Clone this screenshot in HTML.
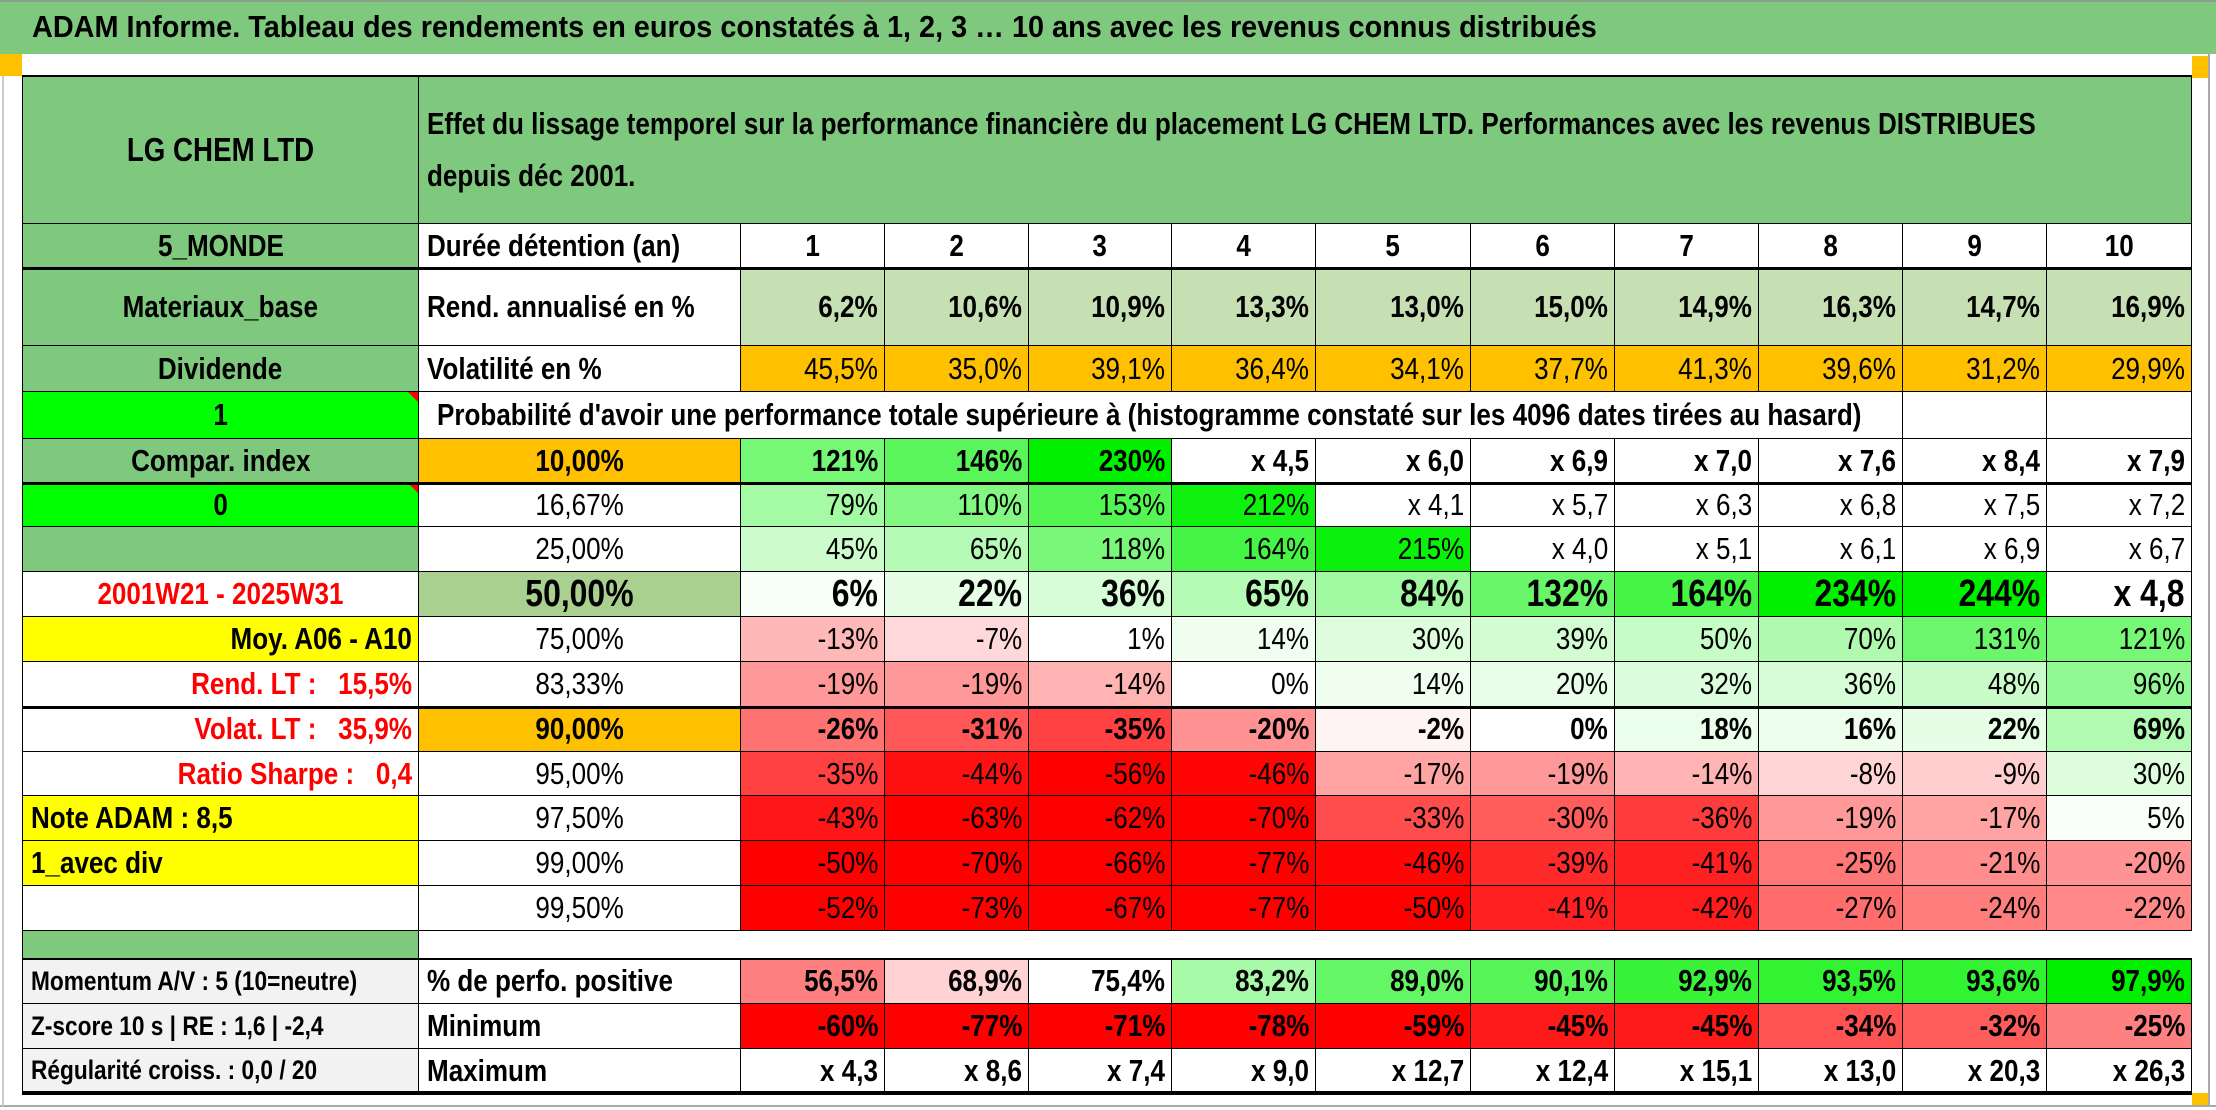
<!DOCTYPE html>
<html><head><meta charset="utf-8">
<style>
body{margin:0;width:2216px;height:1110px;background:#fff;overflow:hidden;position:relative;font-family:"Liberation Sans Narrow","Liberation Sans",sans-serif;}
.c{position:absolute;box-sizing:border-box;border-right:1.5px solid #000;border-bottom:1.5px solid #000;display:flex;align-items:center;white-space:nowrap;overflow:visible;color:#000;font-size:31px;}
.c>span.t{display:inline-block;transform:scaleX(0.84)}
.r{justify-content:flex-end;padding-right:6px}
.r>span.t{transform-origin:right center}
.l{justify-content:flex-start;padding-left:8px}
.l>span.t{transform-origin:left center}
.m{justify-content:center}
.m>span.t{transform-origin:center center}
.b{font-weight:bold}
.tri{position:absolute;right:0;top:0;width:0;height:0;border-top:10px solid #f00;border-left:10px solid transparent}
.hl{position:absolute;background:#000}
</style></head><body>
<div style="position:absolute;left:0;top:0;width:2216px;height:54px;background:#7fc97f;border-top:2px solid #8aa08a;box-sizing:border-box;font-size:31px;font-weight:bold;padding-left:32px;line-height:50px"><span style="display:inline-block;transform:scaleX(0.93);transform-origin:left center">ADAM Informe. Tableau des rendements en euros constatés à 1, 2, 3 … 10 ans avec les revenus connus distribués</span></div>
<div style="position:absolute;left:0;top:54px;width:22px;height:22px;background:#ffc000"></div>
<div style="position:absolute;left:2192px;top:56px;width:16px;height:22px;background:#ffc000"></div>
<div style="position:absolute;left:2192px;top:1093px;width:16px;height:14px;background:#ffc000"></div>
<div style="position:absolute;left:2208px;top:54px;width:2px;height:1052px;background:#aaa"></div>
<div style="position:absolute;left:0;top:1105px;width:2216px;height:2px;background:#aaa"></div>
<div style="position:absolute;left:2px;top:76px;width:2px;height:1030px;background:#ccc"></div>
<div id="t"></div>
<script>
const colX=[22,419,741,885,1029,1172,1316,1471,1615,1759,1903,2047,2192];
const rowY=[76,224,268,346,392,439,483,527,572,617,662,707,752,796,841,886,931,959,1004,1049,1093];
const years=["1","2","3","4","5","6","7","8","9","10"];
const rendAnn=["6,2%","10,6%","10,9%","13,3%","13,0%","15,0%","14,9%","16,3%","14,7%","16,9%"];
const volat=["45,5%","35,0%","39,1%","36,4%","34,1%","37,7%","41,3%","39,6%","31,2%","29,9%"];
const pctLabels=["10,00%","16,67%","25,00%","50,00%","75,00%","83,33%","90,00%","95,00%","97,50%","99,00%","99,50%"];
const p10=["121%","146%","230%","x 4,5","x 6,0","x 6,9","x 7,0","x 7,6","x 8,4","x 7,9"];
const p1667=["79%","110%","153%","212%","x 4,1","x 5,7","x 6,3","x 6,8","x 7,5","x 7,2"];
const p25=["45%","65%","118%","164%","215%","x 4,0","x 5,1","x 6,1","x 6,9","x 6,7"];
const p50=["6%","22%","36%","65%","84%","132%","164%","234%","244%","x 4,8"];
const p75=["-13%","-7%","1%","14%","30%","39%","50%","70%","131%","121%"];
const p8333=["-19%","-19%","-14%","0%","14%","20%","32%","36%","48%","96%"];
const p90=["-26%","-31%","-35%","-20%","-2%","0%","18%","16%","22%","69%"];
const p95=["-35%","-44%","-56%","-46%","-17%","-19%","-14%","-8%","-9%","30%"];
const p975=["-43%","-63%","-62%","-70%","-33%","-30%","-36%","-19%","-17%","5%"];
const p99=["-50%","-70%","-66%","-77%","-46%","-39%","-41%","-25%","-21%","-20%"];
const p995=["-52%","-73%","-67%","-77%","-50%","-41%","-42%","-27%","-24%","-22%"];
const posPerf=["56,5%","68,9%","75,4%","83,2%","89,0%","90,1%","92,9%","93,5%","93,6%","97,9%"];
const minimum=["-60%","-77%","-71%","-78%","-59%","-45%","-45%","-34%","-32%","-25%"];
const maximum=["x 4,3","x 8,6","x 7,4","x 9,0","x 12,7","x 12,4","x 15,1","x 13,0","x 20,3","x 26,3"];

const T=document.getElementById('t');
function num(s){return parseFloat(s.replace('%','').replace(',','.'));}
function mix(c,t){t=Math.max(0,Math.min(1,t));const f=v=>Math.round(255+(v-255)*t);return `rgb(${f(c[0])},${f(c[1])},${f(c[2])})`;}
function heat(s){if(s.startsWith('x'))return '#fff';const v=num(s);return v>=0?mix([0,240,0],v/225):mix([255,0,0],-v/47);}
function cell(c0,c1,r0,r1,txt,cls,bg,name,extra){
  const d=document.createElement('div');
  d.className='c '+cls;
  d.style.left=colX[c0]+'px';d.style.top=rowY[r0]+'px';
  d.style.width=(colX[c1]-colX[c0])+'px';d.style.height=(rowY[r1]-rowY[r0])+'px';
  if(bg)d.style.background=bg;
  if(extra)d.style.cssText+=extra;
  if(txt){const s=document.createElement('span');s.className='t';s.textContent=txt;d.appendChild(s);}
  
  
  T.appendChild(d);return d;
}
const G='#7fc97f';
const colA=[
 ["LG CHEM LTD","m b",G,""],["5_MONDE","m b",G,""],["Materiaux_base","m b",G,""],["Dividende","m b",G,""],
 ["1","m b","#00ff00","tri"],["Compar. index","m b",G,""],["0","m b","#00ff00","tri"],["","m",G,""],
 ["2001W21 - 2025W31","m b","#fff","red"],["Moy. A06 - A10","r b","#ffff00",""],["Rend. LT :   15,5%","r b","#fff","red"],
 ["Volat. LT :   35,9%","r b","#fff","red"],["Ratio Sharpe :   0,4","r b","#fff","red"],["Note ADAM : 8,5","l b","#ffff00",""],
 ["1_avec div","l b","#ffff00",""],["","m","#fff",""],["","m",G,""],
 ["Momentum A/V : 5 (10=neutre)","l b","#f2f2f2","small"],["Z-score 10 s | RE : 1,6 | -2,4","l b","#f2f2f2","small"],["Régularité croiss. : 0,0 / 20","l b","#f2f2f2","small"]
];
colA.forEach((a,i)=>{
  const d=cell(0,1,i,i+1,a[0],a[1],a[2],'label-a-'+(i+1),'border-left:1.5px solid #000;'+(i==0?'font-size:33px;':''));
  if(a[3]=='red'){d.style.color='#f00';d.style.whiteSpace='pre';}
  if(a[3]=='small')d.style.fontSize='27px';
  if(a[3]=='tri'){const t=document.createElement('span');t.className='tri';d.appendChild(t);}
  if(i==16){d.style.borderBottom='none';}
});
// header
const h=cell(1,12,0,1,"","l b",G,'table-heading');
h.style.flexDirection='column';h.style.alignItems='flex-start';h.style.justifyContent='center';
["Effet du lissage temporel sur la performance financière du placement LG CHEM LTD. Performances avec les revenus DISTRIBUES","depuis déc 2001."].forEach((line,i)=>{
  const s=document.createElement('span');s.className='t';s.textContent=line;
  s.style.transformOrigin='left center';s.style.lineHeight='52px';
  
  
  h.appendChild(s);
});
cell(1,2,1,2,"Durée détention (an)","l b","#fff",'holding-label');
years.forEach((y,i)=>cell(2+i,3+i,1,2,y,"m b","#fff",'year-'+y));
cell(1,2,2,3,"Rend. annualisé en %","l b","#fff",'rend-label');
rendAnn.forEach((v,i)=>cell(2+i,3+i,2,3,v,"r b","#c6e0b4",'rend-'+years[i]));
cell(1,2,3,4,"Volatilité en %","l b","#fff",'volat-label');
volat.forEach((v,i)=>cell(2+i,3+i,3,4,v,"r","#ffc000",'volat-'+years[i]));
cell(1,10,4,5,"Probabilité d'avoir une performance totale supérieure à (histogramme constaté sur les 4096 dates tirées au hasard)","l b","#fff",'probability-caption','padding-left:18px;');
cell(10,11,4,5,"","m","#fff",'empty-9');cell(11,12,4,5,"","m","#fff",'empty-10');
const rows=[p10,p1667,p25,p50,p75,p8333,p90,p95,p975,p99,p995];
const boldRows=[0,3,6];
rows.forEach((arr,k)=>{
  const r=5+k;const bold=boldRows.includes(k);
  const lb=k==0||k==6?'#ffc000':(k==3?'#a9d08e':'#fff');
  const d=cell(1,2,r,r+1,pctLabels[k],"m"+(bold?" b":""),lb,'pct-label-'+k);
  if(k==3)d.style.fontSize='38px';
  arr.forEach((v,i)=>{const e=cell(2+i,3+i,r,r+1,v,"r"+(bold?" b":""),heat(v),'pct'+k+'-y'+years[i]);if(k==3)e.style.fontSize='38px';});
});
const bl=cell(1,12,16,17,"","m","#fff",'blank-row');bl.style.borderRight='none';
cell(1,2,17,18,"% de perfo. positive","l b","#fff",'positive-label');
posPerf.forEach((v,i)=>{const x=num(v);const bg=x<75.4?mix([255,0,0],(75.4-x)/38):mix([0,240,0],(x-75.4)/22.5);cell(2+i,3+i,17,18,v,"r b",bg,'positive-'+years[i]);});
cell(1,2,18,19,"Minimum","l b","#fff",'minimum-label');
minimum.forEach((v,i)=>cell(2+i,3+i,18,19,v,"r b",mix([255,0,0],-num(v)/50),'minimum-'+years[i]));
cell(1,2,19,20,"Maximum","l b","#fff",'maximum-label');
maximum.forEach((v,i)=>cell(2+i,3+i,19,20,v,"r b","#fff",'maximum-'+years[i]));
[[0,76,2.5],[2,268,3],[6,483,3],[10,707,3],[17,959,2.5],[20,1093,4]].forEach((a,j)=>{
  const d=document.createElement('div');d.className='hl';
  d.style.left='22px';d.style.top=(a[1]-a[2]/2)+'px';d.style.width=(2192-22)+'px';d.style.height=a[2]+'px';
  
  
  T.appendChild(d);
});
</script>
</body></html>
